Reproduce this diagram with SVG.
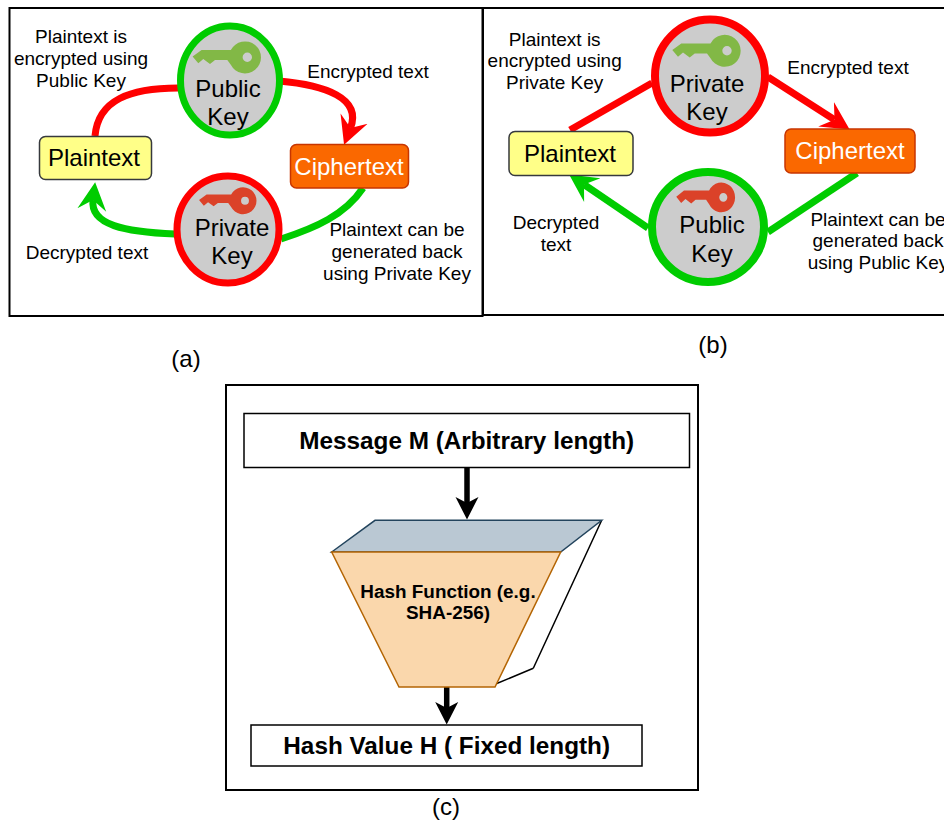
<svg xmlns="http://www.w3.org/2000/svg" width="944" height="822" viewBox="0 0 944 822">
<style>
text{font-family:"Liberation Sans",Arial,sans-serif;fill:#000;text-anchor:middle}
.lab{font-size:19px}
.big{font-size:24px}
.cap{font-size:24px}
.bold{font-weight:bold;font-size:24.300px}
.hf{font-weight:bold;font-size:18.900px}
.panel{fill:#fff;stroke:#000;stroke-width:2}
.circ{fill:#ccc;stroke-width:7}
.pt{fill:#ff8;stroke:#36393d;stroke-width:1.500}
.ct{fill:#fa6800;stroke:#c73500;stroke-width:1.500}
.box{fill:#fff;stroke:#000;stroke-width:1.500}
.rl{fill:none;stroke:#f00;stroke-width:7}
.gl{fill:none;stroke:#0c0;stroke-width:7}
.kl{fill:none;stroke:#000;stroke-width:5.500}
</style>
<defs>
<path id="key" fill-rule="evenodd" d="M-54.700,-0.700L-45.700,-7.300L-16.500,-7.300A16,16 0 1 1 -16.500,7.500L-20,2.700L-32.300,2.700L-37.300,6.700L-44,1.700L-49,6ZM4.700,0A4.700,4.700 0 1 0 -4.700,0A4.700,4.700 0 1 0 4.700,0Z"/>
<marker id="ar" markerUnits="userSpaceOnUse" markerWidth="34" markerHeight="34" refX="10" refY="17" orient="auto"><path d="M0,2.500L28,17L0,31.500L10,17Z" fill="#f00"/></marker>
<marker id="ag" markerUnits="userSpaceOnUse" markerWidth="34" markerHeight="34" refX="10" refY="17" orient="auto"><path d="M0,2.500L28,17L0,31.500L10,17Z" fill="#0c0"/></marker>
<marker id="ak" markerUnits="userSpaceOnUse" markerWidth="28" markerHeight="28" refX="6" refY="14" orient="auto"><path d="M0,2.500L22.500,14L0,25.500L6,14Z" fill="#000"/></marker>
</defs>
<rect width="944" height="822" fill="#fff"/>
<rect class="panel" x="9.500" y="8" width="473" height="308"/>
<rect class="panel" x="483" y="8" width="480" height="307"/>
<rect class="panel" x="226" y="385" width="472" height="405"/>
<g id="connectors">
<path class="rl" d="M178,88C130,88 98,100 95,136"/>
<path class="rl" d="M279,81C325,85 362,98 350.500,128" marker-end="url(#ar)"/>
<path class="gl" d="M363,188C345,215 315,228 281,239"/>
<path class="gl" d="M175,234C125,232 90,225 93,200" marker-end="url(#ag)"/>
<path class="rl" d="M652,83L570,130"/>
<path class="rl" d="M768,77L834.500,119.700" marker-end="url(#ar)"/>
<path class="gl" d="M857,173L768,232"/>
<path class="gl" d="M648,228L584,184.500" marker-end="url(#ag)"/>
<path class="kl" d="M467,467L467,503" marker-end="url(#ak)"/>
<path class="kl" d="M446.700,687L446.700,708" marker-end="url(#ak)"/>
</g>
<g id="plaintext-a"><rect class="pt" x="39.500" y="136.500" width="112" height="43" rx="6"/><text class="big" x="94" y="165.700">Plaintext</text></g>
<g id="ciphertext-a"><rect class="ct" x="290.500" y="144.500" width="118" height="43.500" rx="6"/><text class="big" x="349" y="175" style="fill:#fff">Ciphertext</text></g>
<g id="public-key-a"><ellipse class="circ" cx="230" cy="80.500" rx="49.500" ry="54.500" stroke="#0c0"/><use href="#key" transform="translate(247.300,57.300)" fill="#82b846"/><text class="big"><tspan x="228" y="96.700">Public</tspan><tspan x="228" y="125">Key</tspan></text></g>
<g id="private-key-a"><ellipse class="circ" cx="228" cy="229.500" rx="51" ry="53.500" stroke="#f00"/><use href="#key" transform="translate(245,200.700) scale(.84)" fill="#db4229"/><text class="big"><tspan x="232" y="235.700">Private</tspan><tspan x="232" y="264">Key</tspan></text></g>
<g id="labels-a">
<text class="lab"><tspan x="81" y="43.300">Plaintext is</tspan><tspan x="81" y="65">encrypted using</tspan><tspan x="81" y="86.700">Public Key</tspan></text>
<text class="lab" x="368" y="78.300">Encrypted text</text>
<text class="lab" x="87" y="259">Decrypted text</text>
<text class="lab"><tspan x="397" y="236">Plaintext can be</tspan><tspan x="397" y="258">generated back</tspan><tspan x="397" y="279.500">using Private Key</tspan></text>
<text class="cap" x="186" y="367">(a)</text>
</g>
<g id="plaintext-b"><rect class="pt" x="509" y="131.500" width="124" height="44" rx="6"/><text class="big" x="570" y="161.700">Plaintext</text></g>
<g id="ciphertext-b"><rect class="ct" x="785" y="129" width="130" height="44" rx="6"/><text class="big" x="850" y="159.300" style="fill:#fff">Ciphertext</text></g>
<g id="private-key-b"><ellipse class="circ" cx="710" cy="76" rx="55" ry="56.500" stroke="#f00" style="stroke-width:8"/><use href="#key" transform="translate(727,50.700)" fill="#82b846"/><text class="big"><tspan x="707" y="91.700">Private</tspan><tspan x="707" y="120">Key</tspan></text></g>
<g id="public-key-b"><ellipse class="circ" cx="708" cy="227" rx="56" ry="55" stroke="#0c0" style="stroke-width:8"/><use href="#key" transform="translate(723.300,197.300) scale(.86,.93)" fill="#db4229"/><text class="big"><tspan x="712" y="233">Public</tspan><tspan x="712" y="261.700">Key</tspan></text></g>
<g id="labels-b">
<text class="lab"><tspan x="554.700" y="45.700">Plaintext is</tspan><tspan x="554.700" y="67">encrypted using</tspan><tspan x="554.700" y="89">Private Key</tspan></text>
<text class="lab" x="848" y="74.300">Encrypted text</text>
<text class="lab"><tspan x="556" y="229.300">Decrypted</tspan><tspan x="556" y="250.700">text</tspan></text>
<text class="lab"><tspan x="878" y="225.700">Plaintext can be</tspan><tspan x="878" y="247">generated back</tspan><tspan x="878" y="268.700">using Public Key</tspan></text>
<text class="cap" x="713" y="353">(b)</text>
</g>
<g id="message"><rect class="box" x="244" y="413.500" width="445.500" height="54"/><text class="bold" x="466.700" y="449">Message M (Arbitrary length)</text></g>
<g id="hash-function">
<path d="M533.300,668.300L601.700,520.300M533.300,668.300L495,684.300" fill="none" stroke="#000" stroke-width="1.500"/>
<path d="M331.700,552L375,520.300L601.700,520.300L560.700,552Z" fill="#bac8d3" stroke="#23445d" stroke-width="1.500"/>
<path d="M331.700,552L560.700,552L495,687L399,687Z" fill="#fad7ac" stroke="#b46504" stroke-width="1.500"/>
<text class="hf"><tspan x="448" y="597.700">Hash Function (e.g.</tspan><tspan x="448" y="619">SHA-256)</tspan></text>
</g>
<g id="hash-value"><rect class="box" x="251" y="725" width="391" height="41"/><text class="bold" x="446.700" y="754">Hash Value H ( Fixed length)</text></g>
<text class="cap" x="446" y="815">(c)</text>
</svg>
